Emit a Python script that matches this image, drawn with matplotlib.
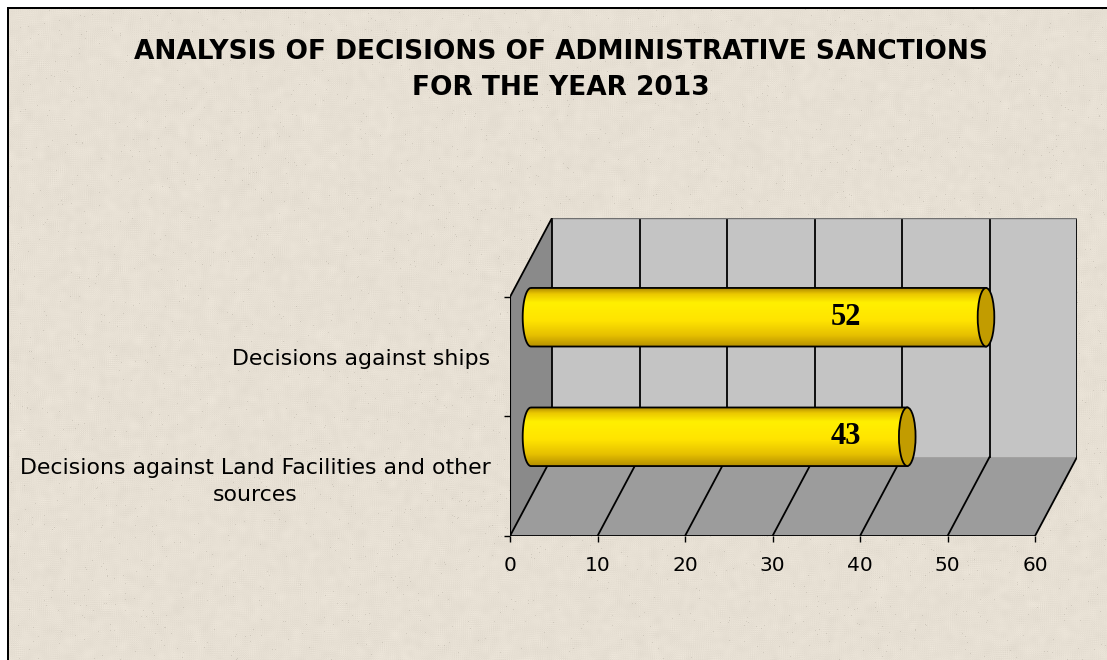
import numpy as np
import matplotlib
matplotlib.use("Agg")
import matplotlib.pyplot as plt
from matplotlib.patches import Polygon, Rectangle, Ellipse, PathPatch
from matplotlib.path import Path
from matplotlib.colors import LinearSegmentedColormap

# chart data
categories = ["Decisions against Land Facilities and other\nsources",
              "Decisions against ships"]
values = [43, 52]
x_ticks = [0, 10, 20, 30, 40, 50, 60]
title = "ANALYSIS OF DECISIONS OF ADMINISTRATIVE SANCTIONS\nFOR THE YEAR 2013"

X_MAX = 60
DX, DY = 4.8, 0.66      # depth of the 3d box in data units
BAR_R = 0.245           # cylinder radius (y units)
CAP_RX = 0.95           # half width of the end ellipses (x units)
LABEL_X = 38.4          # where the value labels sit

W, H = 1107, 660
fig = plt.figure(figsize=(W / 100, H / 100), dpi=100)

# stone-like background with a thin frame on the top/left
bg = fig.add_axes([0, 0, 1, 1])
bg.axis("off")
rng = np.random.default_rng(3)
noise = rng.normal(0, 1, (H, W))
for _ in range(4):  # cheap box blur for a soft mottled look
    noise = (noise + np.roll(noise, 2, 0) + np.roll(noise, -2, 0)
             + np.roll(noise, 2, 1) + np.roll(noise, -2, 1)) / 5
tex = np.ones((H, W, 3)) * np.array([231, 224, 212]) / 255.0
tex += (noise * 0.04)[..., None]
spk = rng.random((H, W)) < 0.004
tex[spk] -= 0.09
tex = np.clip(tex, 0, 1)
tex[:7, :] = 1.0
tex[:, :7] = 1.0
tex[7:9, 7:] = 0.0
tex[7:, 7:9] = 0.0
bg.imshow(tex, aspect="auto", interpolation="nearest")

# main chart area, front plane runs 0..60 x 0..2
ax = fig.add_axes([510 / W, (H - 536) / H, (1077 - 510) / W, (536 - 218) / H])
ax.patch.set_alpha(0)
for s in ax.spines.values():
    s.set_visible(False)

ax.add_patch(Polygon([(0, 0), (0, 2), (DX, 2 + DY), (DX, DY)],
                     closed=True, facecolor="#8a8a8a", edgecolor="none"))
ax.add_patch(Rectangle((DX, DY), X_MAX, 2, facecolor="#c4c4c4", edgecolor="none"))
ax.add_patch(Polygon([(0, 0), (X_MAX, 0), (X_MAX + DX, DY), (DX, DY)],
                     closed=True, facecolor="#9c9c9c", edgecolor="none"))

for t in x_ticks:
    ax.plot([t, t + DX], [0, DY], color="black", lw=1.3)
    ax.plot([t + DX, t + DX], [DY, 2 + DY], color="black", lw=1.3)
ax.plot([DX, X_MAX + DX], [2 + DY, 2 + DY], color="#707070", lw=1)
ax.plot([0, X_MAX], [0, 0], color="black", lw=1.3)
ax.plot([0, 0], [0, 2], color="black", lw=1.5)
ax.plot([0, DX], [2, 2 + DY], color="black", lw=1.3)

# golden cylinders
gold = LinearSegmentedColormap.from_list(
    "gold", [(0.0, "#b48e00"), (0.2, "#e6c000"), (0.45, "#ffe400"),
             (0.75, "#fff000"), (0.9, "#ebc800"), (1.0, "#b08a00")])
grad = np.linspace(0, 1, 256).reshape(-1, 1)
th = np.linspace(np.pi / 2, 3 * np.pi / 2, 40)

for i, v in enumerate(values):
    yc = i + 0.5 + DY / 2
    x0, x1 = DX / 2, v + DX / 2
    verts = [(x0 + CAP_RX * np.cos(a), yc + BAR_R * np.sin(a)) for a in th]
    verts += [(x1, yc - BAR_R), (x1, yc + BAR_R), verts[0]]
    body = PathPatch(Path(verts), facecolor="none", edgecolor="black", lw=1.3, zorder=4)
    ax.add_patch(body)
    im = ax.imshow(grad, cmap=gold, aspect="auto", origin="lower",
                   extent=(x0 - CAP_RX, x1, yc - BAR_R, yc + BAR_R), zorder=3)
    im.set_clip_path(body)
    ax.add_patch(Ellipse((x1, yc), 2 * CAP_RX, 2 * BAR_R, facecolor="#c29c00",
                         edgecolor="black", lw=1.3, zorder=5))
    ax.text(LABEL_X, yc, str(v), ha="center", va="center", fontsize=22,
            fontweight="bold", family="Liberation Serif", zorder=6)

ax.set_xlim(0, X_MAX + DX)
ax.set_ylim(0, 2 + DY)

ax.set_xticks(x_ticks)
ax.set_xticklabels([str(t) for t in x_ticks], fontsize=14.5)
ax.tick_params(axis="x", length=4.5, width=1, pad=10)
ax.set_yticks([0, 1, 2])
ax.set_yticklabels(["", "", ""])
ax.tick_params(axis="y", which="major", length=4, width=1)
ax.set_yticks([0.5, 1.5], minor=True)
ylabels = ax.set_yticklabels(categories, minor=True, fontsize=15.8,
                             multialignment="center")
for lab in ylabels:
    lab.set_linespacing(1.4)
ax.tick_params(axis="y", which="minor", length=0, pad=14)

fig.text(561 / W, 1 - 70 / H, title, ha="center", va="center", fontsize=19,
         fontweight="bold", linespacing=1.5)

fig.savefig("out.png", dpi=100)
